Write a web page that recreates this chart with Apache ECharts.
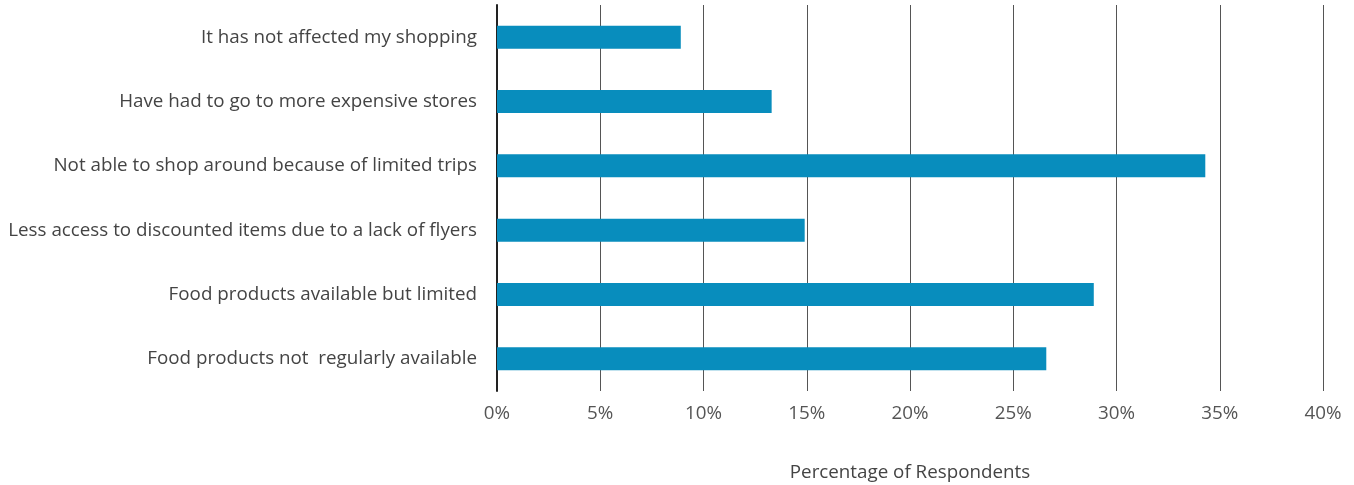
<!DOCTYPE html>
<html>
<head>
<meta charset="utf-8">
<script src="https://cdn.jsdelivr.net/npm/echarts@6/dist/echarts.min.js"></script>
<style>
  html, body { margin: 0; padding: 0; background: #fff; }
  #chart { width: 1354px; height: 485px; }
</style>
</head>
<body>
<div id="chart"></div>
<script>
// Survey responses, listed top to bottom
const categories = [
  'It has not affected my shopping',
  'Have had to go to more expensive stores',
  'Not able to shop around because of limited trips',
  'Less access to discounted items due to a lack of flyers',
  'Food products available but limited',
  'Food products not  regularly available'
];
// Share of respondents (%)
const shares = [8.9, 13.3, 34.3, 14.9, 28.9, 26.6];
const axisTitle = 'Percentage of Respondents';

const FONT = '"Open Sans", sans-serif';
const chart = echarts.init(document.getElementById('chart'), null, { renderer: 'canvas' });
chart.setOption({
  animation: false,
  grid: { left: 497, right: 31, top: 5, height: 386, containLabel: false, outerBoundsMode: 'none' },
  xAxis: {
    type: 'value',
    min: 0, max: 40, interval: 5,
    name: axisTitle,
    nameLocation: 'middle',
    nameGap: 72,
    nameTextStyle: { fontFamily: FONT, fontSize: 18.8, color: '#444' },
    axisLine: { show: false },
    axisTick: { show: false },
    axisLabel: { formatter: '{value}%', fontFamily: FONT, fontSize: 18.8, color: '#555', margin: 13 },
    splitLine: { show: true, lineStyle: { color: '#555', width: 1 } }
  },
  yAxis: {
    type: 'category',
    data: categories,
    inverse: true,
    axisLine: { show: true, lineStyle: { color: '#222', width: 2 } },
    axisTick: { show: false },
    axisLabel: { fontFamily: FONT, fontSize: 18.8, color: '#444', margin: 20 }
  },
  series: [{
    type: 'bar',
    data: shares,
    barWidth: 23,
    itemStyle: { color: '#088dbd' }
  }]
});
</script>
</body>
</html>
